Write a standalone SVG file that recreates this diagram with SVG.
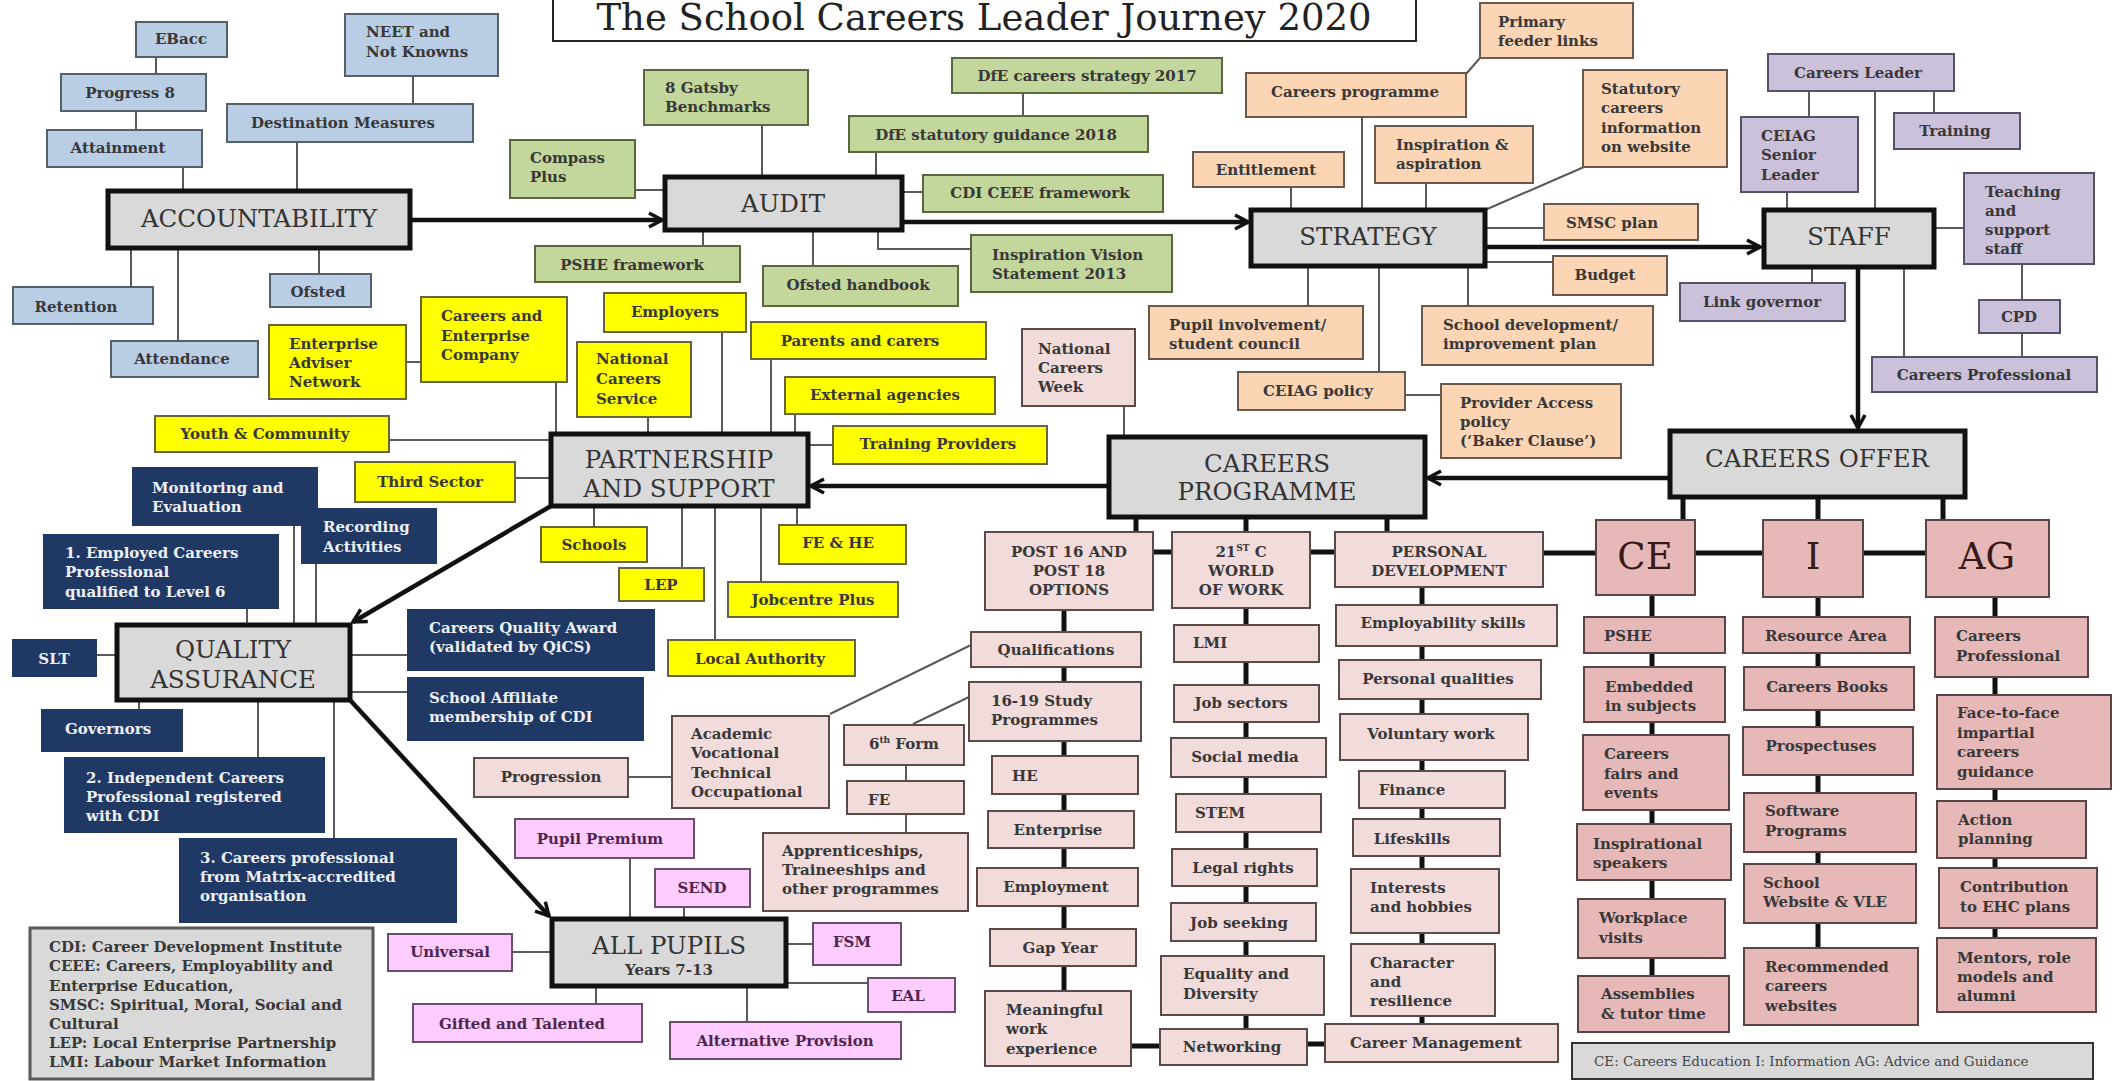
<svg xmlns="http://www.w3.org/2000/svg" width="2122" height="1081" viewBox="0 0 2122 1081">
<style>
text{font-family:"DejaVu Serif","Liberation Serif",serif}
.t{font-size:15px;font-weight:bold;fill:#383838}
.m{text-anchor:middle}
.w{fill:#eef0f6}
.h{font-size:24.5px;fill:#333;text-anchor:middle}
.big{font-size:37px;fill:#3a1818;text-anchor:middle}
.vt{fill:#4d2650}
rect{stroke-width:2}
rect.b{fill:#b9cde5;stroke:#55606b}
rect.g{fill:#c3d69b;stroke:#59683f}
rect.p{fill:#fcd5b5;stroke:#6b5a4a}
rect.u{fill:#ccc1da;stroke:#57506a}
rect.y{fill:#ffff00;stroke:#66663a}
rect.nv{fill:#1f3864;stroke:#1f3864}
rect.k{fill:#f2dcdb;stroke:#5a4a4a}
rect.r{fill:#e6b9b8;stroke:#5a4444}
rect.v{fill:#ffccff;stroke:#6a4f6a}
rect.hd{fill:#d9d9d9;stroke:#111;stroke-width:5}
rect.lg{fill:#d9d9d9;stroke:#595959;stroke-width:3}
.c{fill:none;stroke:#595959;stroke-width:2}
.kk{fill:none;stroke:#111;stroke-width:5}
.a{fill:none;stroke:#111;stroke-width:4.5;marker-end:url(#ah)}
</style>
<defs>
<marker id="ah" markerUnits="userSpaceOnUse" markerWidth="18" markerHeight="18" viewBox="0 0 18 18" refX="16" refY="9" orient="auto"><path d="M3,2 L16,9 L3,16" fill="none" stroke="#111" stroke-width="3.5"/></marker>
</defs>
<rect width="2122" height="1081" fill="#fff"/>

<g id="connectors">
<path class="c" d="M156,57V74 M136,111V130 M183,167V191 M297,142V191 M413,76V104 M131,248V287 M178,248V341 M319,248V274"/>
<path class="c" d="M635,190H665 M762,125V177 M1023,93V116 M876,152V177 M902,192H923 M703,230V246 M813,230V266 M878,230V249H971"/>
<path class="c" d="M1466,74L1480,58 M1362,117V210 M1291,187V210 M1426,183V210 M1485,210L1584,167 M1485,228H1544 M1485,262H1553 M1308,266V306 M1468,266V306 M1379,266V372 M1405,395H1441"/>
<path class="c" d="M1809,91V117 M1934,91V113 M1875,91V210 M1787,192V210 M1934,228H1964 M1812,267V283 M1904,267V357 M2022,264V300 M2022,333V357"/>
<path class="c" d="M808,445H833 M795,414V434 M771,359V434 M722,332V434 M648,417V434 M556,382V434 M389,440H551 M515,478H551 M594,506V527 M682,506V568 M715,506V640 M761,506V582 M797,506V525 M406,362H421"/>
<path class="c" d="M1124,406V437"/>
<path class="c" d="M294,525V625 M316,563V625 M247,608V625 M96,655H117 M350,655H408 M350,692H408 M139,700V710 M258,700V758 M334,700V839"/>
<path class="c" d="M630,858V919 M684,907V919 M786,944H813 M786,983H868 M747,986V1022 M596,986V1004 M512,952H552"/>
<path class="c" d="M628,777H672 M830,714L971,645 M913,724L969,697 M906,765V781 M906,814V833"/>
<path class="kk" d="M1136,517V532 M1246,517V532 M1387,517V532 M1153,552H1172 M1310,552H1335 M1543,553H1596 M1695,553H1763 M1863,553H1926"/>
<path class="kk" d="M1683,497V520 M1818,497V520 M1943,497V520"/>
<path class="kk" d="M1064,610V632 M1064,667V682 M1064,741V756 M1064,794V811 M1064,848V868 M1064,906V929 M1064,966V991"/>
<path class="kk" d="M1246,608V625 M1246,662V685 M1246,722V738 M1246,777V794 M1246,832V849 M1246,886V903 M1246,941V956 M1246,1015V1029"/>
<path class="kk" d="M1422,587V605 M1422,646V660 M1422,699V714 M1422,760V771 M1422,808V819 M1422,856V869 M1422,933V944 M1422,1016V1024"/>
<path class="kk" d="M1131,1046H1160 M1307,1044H1325"/>
<path class="kk" d="M1652,595V617 M1652,653V667 M1652,722V735 M1652,810V824 M1652,880V899 M1652,958V976"/>
<path class="kk" d="M1818,597V617 M1818,653V667 M1818,710V727 M1818,775V793 M1818,852V864 M1818,923V948"/>
<path class="kk" d="M1995,597V617 M1995,677V695 M1995,789V801 M1995,858V868 M1995,928V938"/>
<path class="a" d="M410,220H662"/>
<path class="a" d="M902,222H1248"/>
<path class="a" d="M1485,247H1760"/>
<path class="a" d="M1858,267V428"/>
<path class="a" d="M1670,478H1428"/>
<path class="a" d="M1109,486H811"/>
<path class="a" d="M551,506L353,622"/>
<path class="a" d="M350,700L549,916"/>
</g>

<g id="title"><rect x="553" y="-10" width="863" height="51" fill="#fff" stroke="#222" stroke-width="3"/><text x="984" y="30" font-size="37" fill="#222" text-anchor="middle">The School Careers Leader Journey 2020</text></g>

<g id="accountability"><rect class="hd" x="108" y="191" width="302" height="57"/><text class="h" x="259" y="227">ACCOUNTABILITY</text></g>
<g id="ebacc"><rect class="b" x="136" y="22" width="91" height="35"/><text class="t m" x="181" y="44">EBacc</text></g>
<g id="progress8"><rect class="b" x="61" y="74" width="145" height="37"/><text class="t m" x="130" y="98">Progress 8</text></g>
<g id="attainment"><rect class="b" x="47" y="130" width="155" height="37"/><text class="t m" x="118" y="153">Attainment</text></g>
<g id="neet"><rect class="b" x="345" y="14" width="153" height="62"/><text class="t"><tspan x="366" y="37">NEET and</tspan><tspan x="366" y="57">Not Knowns</tspan></text></g>
<g id="destination"><rect class="b" x="227" y="104" width="246" height="38"/><text class="t m" x="343" y="128">Destination Measures</text></g>
<g id="retention"><rect class="b" x="13" y="287" width="140" height="37"/><text class="t m" x="76" y="312">Retention</text></g>
<g id="attendance"><rect class="b" x="111" y="341" width="147" height="36"/><text class="t m" x="182" y="364">Attendance</text></g>
<g id="ofsted"><rect class="b" x="270" y="274" width="101" height="33"/><text class="t m" x="318" y="297">Ofsted</text></g>

<g id="audit"><rect class="hd" x="665" y="177" width="237" height="53"/><text class="h" x="783" y="212">AUDIT</text></g>
<g id="compass"><rect class="g" x="510" y="140" width="125" height="58"/><text class="t"><tspan x="530" y="163">Compass</tspan><tspan x="530" y="182">Plus</tspan></text></g>
<g id="gatsby"><rect class="g" x="644" y="70" width="164" height="55"/><text class="t"><tspan x="665" y="93">8 Gatsby</tspan><tspan x="665" y="112">Benchmarks</tspan></text></g>
<g id="dfe2017"><rect class="g" x="952" y="58" width="270" height="35"/><text class="t m" x="1087" y="81">DfE careers strategy 2017</text></g>
<g id="dfe2018"><rect class="g" x="849" y="116" width="299" height="36"/><text class="t m" x="996" y="140">DfE statutory guidance 2018</text></g>
<g id="cdi-ceee"><rect class="g" x="923" y="175" width="240" height="37"/><text class="t m" x="1040" y="198">CDI CEEE framework</text></g>
<g id="pshe-framework"><rect class="g" x="535" y="246" width="205" height="36"/><text class="t m" x="632" y="270">PSHE framework</text></g>
<g id="ofsted-handbook"><rect class="g" x="763" y="266" width="195" height="40"/><text class="t m" x="858" y="290">Ofsted handbook</text></g>
<g id="inspiration-vision"><rect class="g" x="971" y="235" width="201" height="57"/><text class="t"><tspan x="992" y="260">Inspiration Vision</tspan><tspan x="992" y="279">Statement 2013</tspan></text></g>

<g id="strategy"><rect class="hd" x="1251" y="210" width="234" height="56"/><text class="h" x="1368" y="245">STRATEGY</text></g>
<g id="careers-programme-item"><rect class="p" x="1246" y="73" width="220" height="44"/><text class="t m" x="1355" y="97">Careers programme</text></g>
<g id="primary"><rect class="p" x="1480" y="3" width="153" height="55"/><text class="t"><tspan x="1498" y="27">Primary</tspan><tspan x="1498" y="46">feeder links</tspan></text></g>
<g id="entitlement"><rect class="p" x="1193" y="152" width="151" height="35"/><text class="t m" x="1266" y="175">Entitlement</text></g>
<g id="inspiration-aspiration"><rect class="p" x="1375" y="126" width="158" height="57"/><text class="t"><tspan x="1396" y="150">Inspiration &amp;</tspan><tspan x="1396" y="169">aspiration</tspan></text></g>
<g id="statutory"><rect class="p" x="1583" y="70" width="144" height="97"/><text class="t"><tspan x="1601" y="94">Statutory</tspan><tspan x="1601" y="113">careers</tspan><tspan x="1601" y="133">information</tspan><tspan x="1601" y="152">on website</tspan></text></g>
<g id="smsc"><rect class="p" x="1544" y="204" width="154" height="36"/><text class="t m" x="1612" y="228">SMSC plan</text></g>
<g id="budget"><rect class="p" x="1553" y="256" width="114" height="39"/><text class="t m" x="1605" y="280">Budget</text></g>
<g id="pupil-involvement"><rect class="p" x="1149" y="306" width="214" height="53"/><text class="t"><tspan x="1169" y="330">Pupil involvement/</tspan><tspan x="1169" y="349">student council</tspan></text></g>
<g id="school-development"><rect class="p" x="1422" y="306" width="231" height="59"/><text class="t"><tspan x="1443" y="330">School development/</tspan><tspan x="1443" y="349">improvement plan</tspan></text></g>
<g id="ceiag-policy"><rect class="p" x="1238" y="372" width="167" height="38"/><text class="t m" x="1318" y="396">CEIAG policy</text></g>
<g id="provider-access"><rect class="p" x="1441" y="384" width="180" height="74"/><text class="t"><tspan x="1460" y="408">Provider Access</tspan><tspan x="1460" y="427">policy</tspan><tspan x="1460" y="446">(‘Baker Clause’)</tspan></text></g>

<g id="staff"><rect class="hd" x="1764" y="210" width="170" height="57"/><text class="h" x="1849" y="245">STAFF</text></g>
<g id="careers-leader"><rect class="u" x="1768" y="54" width="186" height="37"/><text class="t m" x="1858" y="78">Careers Leader</text></g>
<g id="ceiag-senior"><rect class="u" x="1741" y="117" width="117" height="75"/><text class="t"><tspan x="1761" y="141">CEIAG</tspan><tspan x="1761" y="160">Senior</tspan><tspan x="1761" y="180">Leader</tspan></text></g>
<g id="training"><rect class="u" x="1894" y="113" width="126" height="36"/><text class="t m" x="1955" y="136">Training</text></g>
<g id="teaching"><rect class="u" x="1964" y="173" width="130" height="91"/><text class="t"><tspan x="1985" y="197">Teaching</tspan><tspan x="1985" y="216">and</tspan><tspan x="1985" y="235">support</tspan><tspan x="1985" y="254">staff</tspan></text></g>
<g id="link-governor"><rect class="u" x="1680" y="283" width="165" height="38"/><text class="t m" x="1762" y="307">Link governor</text></g>
<g id="cpd"><rect class="u" x="1979" y="300" width="81" height="33"/><text class="t m" x="2019" y="322">CPD</text></g>
<g id="careers-professional-staff"><rect class="u" x="1872" y="357" width="225" height="35"/><text class="t m" x="1984" y="380">Careers Professional</text></g>

<g id="partnership"><rect class="hd" x="551" y="434" width="257" height="72"/><text class="h"><tspan x="679" y="468">PARTNERSHIP</tspan><tspan x="679" y="497">AND SUPPORT</tspan></text></g>
<g id="enterprise-adviser"><rect class="y" x="269" y="325" width="137" height="74"/><text class="t"><tspan x="289" y="349">Enterprise</tspan><tspan x="289" y="368">Adviser</tspan><tspan x="289" y="387">Network</tspan></text></g>
<g id="careers-enterprise-company"><rect class="y" x="421" y="297" width="146" height="85"/><text class="t"><tspan x="441" y="321">Careers and</tspan><tspan x="441" y="341">Enterprise</tspan><tspan x="441" y="360">Company</tspan></text></g>
<g id="employers"><rect class="y" x="604" y="293" width="142" height="39"/><text class="t m" x="675" y="317">Employers</text></g>
<g id="parents"><rect class="y" x="751" y="322" width="235" height="37"/><text class="t m" x="860" y="346">Parents and carers</text></g>
<g id="ncs"><rect class="y" x="577" y="342" width="114" height="75"/><text class="t"><tspan x="596" y="364">National</tspan><tspan x="596" y="384">Careers</tspan><tspan x="596" y="404">Service</tspan></text></g>
<g id="external"><rect class="y" x="785" y="377" width="210" height="37"/><text class="t m" x="885" y="400">External agencies</text></g>
<g id="training-providers"><rect class="y" x="833" y="426" width="214" height="38"/><text class="t m" x="938" y="449">Training Providers</text></g>
<g id="youth"><rect class="y" x="155" y="416" width="234" height="36"/><text class="t m" x="265" y="439">Youth &amp; Community</text></g>
<g id="third-sector"><rect class="y" x="355" y="462" width="160" height="40"/><text class="t m" x="430" y="487">Third Sector</text></g>
<g id="schools"><rect class="y" x="541" y="527" width="106" height="35"/><text class="t m" x="594" y="550">Schools</text></g>
<g id="lep"><rect class="y" x="619" y="568" width="85" height="33"/><text class="t m" x="661" y="590">LEP</text></g>
<g id="local-authority"><rect class="y" x="668" y="640" width="187" height="36"/><text class="t m" x="760" y="664">Local Authority</text></g>
<g id="jobcentre"><rect class="y" x="728" y="582" width="170" height="35"/><text class="t m" x="813" y="605">Jobcentre Plus</text></g>
<g id="fe-he"><rect class="y" x="779" y="525" width="127" height="39"/><text class="t m" x="838" y="548">FE &amp; HE</text></g>

<g id="quality"><rect class="hd" x="117" y="625" width="233" height="75"/><text class="h"><tspan x="233" y="658">QUALITY</tspan><tspan x="233" y="688">ASSURANCE</tspan></text></g>
<g id="monitoring"><rect class="nv" x="133" y="468" width="184" height="57"/><text class="t w"><tspan x="152" y="493">Monitoring and</tspan><tspan x="152" y="512">Evaluation</tspan></text></g>
<g id="recording"><rect class="nv" x="302" y="509" width="134" height="54"/><text class="t w"><tspan x="323" y="532">Recording</tspan><tspan x="323" y="552">Activities</tspan></text></g>
<g id="employed"><rect class="nv" x="44" y="535" width="234" height="73"/><text class="t w"><tspan x="65" y="558">1. Employed Careers</tspan><tspan x="65" y="577">Professional</tspan><tspan x="65" y="597">qualified to Level 6</tspan></text></g>
<g id="slt"><rect class="nv" x="13" y="640" width="83" height="36"/><text class="t w m" x="54" y="664">SLT</text></g>
<g id="cqa"><rect class="nv" x="408" y="610" width="246" height="60"/><text class="t w"><tspan x="429" y="633">Careers Quality Award</tspan><tspan x="429" y="652">(validated by QiCS)</tspan></text></g>
<g id="school-affiliate"><rect class="nv" x="408" y="678" width="235" height="62"/><text class="t w"><tspan x="429" y="703">School Affiliate</tspan><tspan x="429" y="722">membership of CDI</tspan></text></g>
<g id="governors"><rect class="nv" x="42" y="710" width="140" height="41"/><text class="t w m" x="108" y="734">Governors</text></g>
<g id="independent"><rect class="nv" x="65" y="758" width="259" height="74"/><text class="t w"><tspan x="86" y="783">2. Independent Careers</tspan><tspan x="86" y="802">Professional registered</tspan><tspan x="86" y="821">with CDI</tspan></text></g>
<g id="matrix"><rect class="nv" x="180" y="839" width="276" height="83"/><text class="t w"><tspan x="200" y="863">3. Careers professional</tspan><tspan x="200" y="882">from Matrix-accredited</tspan><tspan x="200" y="901">organisation</tspan></text></g>

<g id="legend-abbreviations"><rect class="lg" x="30" y="928" width="343" height="151"/><text class="t"><tspan x="49" y="952">CDI: Career Development Institute</tspan><tspan x="49" y="971">CEEE: Careers, Employability and</tspan><tspan x="49" y="991">Enterprise Education,</tspan><tspan x="49" y="1010">SMSC: Spiritual, Moral, Social and</tspan><tspan x="49" y="1029">Cultural</tspan><tspan x="49" y="1048">LEP: Local Enterprise Partnership</tspan><tspan x="49" y="1067">LMI: Labour Market Information</tspan></text></g>

<g id="all-pupils"><rect class="hd" x="552" y="919" width="234" height="67"/><text class="h" x="669" y="954">ALL PUPILS</text><text class="t m" x="669" y="975">Years 7-13</text></g>
<g id="pupil-premium"><rect class="v" x="515" y="819" width="179" height="39"/><text class="t m vt" x="600" y="844">Pupil Premium</text></g>
<g id="send"><rect class="v" x="655" y="869" width="95" height="38"/><text class="t m vt" x="702" y="893">SEND</text></g>
<g id="fsm"><rect class="v" x="813" y="923" width="88" height="42"/><text class="t m vt" x="852" y="947">FSM</text></g>
<g id="eal"><rect class="v" x="868" y="978" width="87" height="34"/><text class="t m vt" x="908" y="1001">EAL</text></g>
<g id="alternative"><rect class="v" x="670" y="1022" width="231" height="37"/><text class="t m vt" x="785" y="1046">Alternative Provision</text></g>
<g id="gifted"><rect class="v" x="413" y="1004" width="229" height="38"/><text class="t m vt" x="522" y="1029">Gifted and Talented</text></g>
<g id="universal"><rect class="v" x="388" y="934" width="124" height="37"/><text class="t m vt" x="450" y="957">Universal</text></g>

<g id="careers-programme"><rect class="hd" x="1109" y="437" width="316" height="80"/><text class="h"><tspan x="1267" y="472">CAREERS</tspan><tspan x="1267" y="500">PROGRAMME</tspan></text></g>
<g id="national-careers-week"><rect class="k" x="1022" y="329" width="113" height="77"/><text class="t"><tspan x="1038" y="354">National</tspan><tspan x="1038" y="373">Careers</tspan><tspan x="1038" y="392">Week</tspan></text></g>
<g id="post16"><rect class="k" x="985" y="532" width="168" height="78"/><text class="t m"><tspan x="1069" y="557">POST 16 AND</tspan><tspan x="1069" y="576">POST 18</tspan><tspan x="1069" y="595">OPTIONS</tspan></text></g>
<g id="world-of-work"><rect class="k" x="1172" y="532" width="138" height="76"/><text class="t m" x="1241" y="557">21<tspan font-size="9" dy="-6">ST</tspan><tspan dy="6"> C</tspan></text><text class="t m"><tspan x="1241" y="576">WORLD</tspan><tspan x="1241" y="595">OF WORK</tspan></text></g>
<g id="personal-development"><rect class="k" x="1335" y="532" width="208" height="55"/><text class="t m"><tspan x="1439" y="557">PERSONAL</tspan><tspan x="1439" y="576">DEVELOPMENT</tspan></text></g>
<g id="qualifications"><rect class="k" x="971" y="632" width="170" height="35"/><text class="t m" x="1056" y="655">Qualifications</text></g>
<g id="study-programmes"><rect class="k" x="969" y="682" width="172" height="59"/><text class="t"><tspan x="991" y="706">16-19 Study</tspan><tspan x="991" y="725">Programmes</tspan></text></g>
<g id="academic"><rect class="k" x="672" y="716" width="157" height="92"/><text class="t"><tspan x="691" y="739">Academic</tspan><tspan x="691" y="758">Vocational</tspan><tspan x="691" y="778">Technical</tspan><tspan x="691" y="797">Occupational</tspan></text></g>
<g id="progression"><rect class="k" x="474" y="758" width="154" height="39"/><text class="t m" x="551" y="782">Progression</text></g>
<g id="sixth-form"><rect class="k" x="844" y="725" width="120" height="40"/><text class="t m" x="904" y="749">6<tspan font-size="9" dy="-6">th</tspan><tspan dy="6"> Form</tspan></text></g>
<g id="fe"><rect class="k" x="847" y="781" width="117" height="33"/><text class="t" x="868" y="805" font-size="19">FE</text></g>
<g id="apprenticeships"><rect class="k" x="763" y="833" width="205" height="78"/><text class="t"><tspan x="782" y="856">Apprenticeships,</tspan><tspan x="782" y="875">Traineeships and</tspan><tspan x="782" y="894">other programmes</tspan></text></g>
<g id="he"><rect class="k" x="992" y="756" width="146" height="38"/><text class="t" x="1012" y="781">HE</text></g>
<g id="enterprise"><rect class="k" x="988" y="811" width="146" height="37"/><text class="t m" x="1058" y="835">Enterprise</text></g>
<g id="employment"><rect class="k" x="977" y="868" width="161" height="38"/><text class="t m" x="1056" y="892">Employment</text></g>
<g id="gap-year"><rect class="k" x="990" y="929" width="146" height="37"/><text class="t m" x="1060" y="953">Gap Year</text></g>
<g id="meaningful"><rect class="k" x="985" y="991" width="146" height="75"/><text class="t"><tspan x="1006" y="1015">Meaningful</tspan><tspan x="1006" y="1034">work</tspan><tspan x="1006" y="1054">experience</tspan></text></g>
<g id="lmi"><rect class="k" x="1174" y="625" width="145" height="37"/><text class="t" x="1193" y="648">LMI</text></g>
<g id="job-sectors"><rect class="k" x="1174" y="685" width="145" height="37"/><text class="t m" x="1241" y="708">Job sectors</text></g>
<g id="social-media"><rect class="k" x="1171" y="738" width="155" height="39"/><text class="t m" x="1245" y="762">Social media</text></g>
<g id="stem"><rect class="k" x="1176" y="794" width="145" height="38"/><text class="t" x="1195" y="818">STEM</text></g>
<g id="legal-rights"><rect class="k" x="1172" y="849" width="145" height="37"/><text class="t m" x="1243" y="873">Legal rights</text></g>
<g id="job-seeking"><rect class="k" x="1171" y="903" width="145" height="38"/><text class="t m" x="1239" y="928">Job seeking</text></g>
<g id="equality"><rect class="k" x="1161" y="956" width="163" height="59"/><text class="t"><tspan x="1183" y="979">Equality and</tspan><tspan x="1183" y="999">Diversity</tspan></text></g>
<g id="networking"><rect class="k" x="1160" y="1029" width="147" height="36"/><text class="t m" x="1232" y="1052">Networking</text></g>
<g id="employability"><rect class="k" x="1336" y="605" width="221" height="41"/><text class="t m" x="1443" y="628">Employability skills</text></g>
<g id="personal-qualities"><rect class="k" x="1339" y="660" width="202" height="39"/><text class="t m" x="1438" y="684">Personal qualities</text></g>
<g id="voluntary"><rect class="k" x="1340" y="714" width="188" height="46"/><text class="t m" x="1431" y="739">Voluntary work</text></g>
<g id="finance"><rect class="k" x="1359" y="771" width="146" height="37"/><text class="t m" x="1412" y="795">Finance</text></g>
<g id="lifeskills"><rect class="k" x="1353" y="819" width="147" height="37"/><text class="t m" x="1412" y="844">Lifeskills</text></g>
<g id="interests"><rect class="k" x="1351" y="869" width="148" height="64"/><text class="t"><tspan x="1370" y="893">Interests</tspan><tspan x="1370" y="912">and hobbies</tspan></text></g>
<g id="character"><rect class="k" x="1351" y="944" width="144" height="72"/><text class="t"><tspan x="1370" y="968">Character</tspan><tspan x="1370" y="987">and</tspan><tspan x="1370" y="1006">resilience</tspan></text></g>
<g id="career-management"><rect class="k" x="1325" y="1024" width="233" height="38"/><text class="t m" x="1436" y="1048">Career Management</text></g>

<g id="careers-offer"><rect class="hd" x="1670" y="431" width="295" height="66"/><text class="h" x="1817" y="467">CAREERS OFFER</text></g>
<g id="ce"><rect class="r" x="1596" y="520" width="99" height="75"/><text class="big" x="1645" y="569">CE</text></g>
<g id="i"><rect class="r" x="1763" y="520" width="100" height="77"/><text class="big" x="1813" y="569">I</text></g>
<g id="ag"><rect class="r" x="1926" y="520" width="123" height="77"/><text class="big" x="1987" y="569">AG</text></g>
<g id="pshe"><rect class="r" x="1584" y="617" width="141" height="36"/><text class="t" x="1604" y="641">PSHE</text></g>
<g id="embedded"><rect class="r" x="1584" y="667" width="141" height="55"/><text class="t"><tspan x="1605" y="692">Embedded</tspan><tspan x="1605" y="711">in subjects</tspan></text></g>
<g id="fairs"><rect class="r" x="1583" y="735" width="146" height="75"/><text class="t"><tspan x="1604" y="759">Careers</tspan><tspan x="1604" y="779">fairs and</tspan><tspan x="1604" y="798">events</tspan></text></g>
<g id="inspirational"><rect class="r" x="1577" y="824" width="154" height="56"/><text class="t"><tspan x="1593" y="849">Inspirational</tspan><tspan x="1593" y="868">speakers</tspan></text></g>
<g id="workplace"><rect class="r" x="1578" y="899" width="147" height="59"/><text class="t"><tspan x="1599" y="923">Workplace</tspan><tspan x="1599" y="943">visits</tspan></text></g>
<g id="assemblies"><rect class="r" x="1578" y="976" width="151" height="56"/><text class="t"><tspan x="1601" y="999">Assemblies</tspan><tspan x="1601" y="1019">&amp; tutor time</tspan></text></g>
<g id="resource-area"><rect class="r" x="1743" y="617" width="167" height="36"/><text class="t m" x="1826" y="641">Resource Area</text></g>
<g id="careers-books"><rect class="r" x="1744" y="667" width="170" height="43"/><text class="t m" x="1827" y="692">Careers Books</text></g>
<g id="prospectuses"><rect class="r" x="1743" y="727" width="170" height="48"/><text class="t m" x="1821" y="751">Prospectuses</text></g>
<g id="software"><rect class="r" x="1744" y="793" width="172" height="59"/><text class="t"><tspan x="1765" y="816">Software</tspan><tspan x="1765" y="836">Programs</tspan></text></g>
<g id="school-website"><rect class="r" x="1744" y="864" width="172" height="59"/><text class="t"><tspan x="1763" y="888">School</tspan><tspan x="1763" y="907">Website &amp; VLE</tspan></text></g>
<g id="recommended"><rect class="r" x="1744" y="948" width="174" height="77"/><text class="t"><tspan x="1765" y="972">Recommended</tspan><tspan x="1765" y="991">careers</tspan><tspan x="1765" y="1011">websites</tspan></text></g>
<g id="careers-professional-ag"><rect class="r" x="1935" y="617" width="153" height="60"/><text class="t"><tspan x="1956" y="641">Careers</tspan><tspan x="1956" y="661">Professional</tspan></text></g>
<g id="face-to-face"><rect class="r" x="1937" y="695" width="174" height="94"/><text class="t"><tspan x="1957" y="718">Face-to-face</tspan><tspan x="1957" y="738">impartial</tspan><tspan x="1957" y="757">careers</tspan><tspan x="1957" y="777">guidance</tspan></text></g>
<g id="action-planning"><rect class="r" x="1937" y="801" width="149" height="57"/><text class="t"><tspan x="1958" y="825">Action</tspan><tspan x="1958" y="844">planning</tspan></text></g>
<g id="ehc"><rect class="r" x="1939" y="868" width="158" height="60"/><text class="t"><tspan x="1960" y="892">Contribution</tspan><tspan x="1960" y="912">to EHC plans</tspan></text></g>
<g id="mentors"><rect class="r" x="1937" y="938" width="159" height="74"/><text class="t"><tspan x="1957" y="963">Mentors, role</tspan><tspan x="1957" y="982">models and</tspan><tspan x="1957" y="1001">alumni</tspan></text></g>

<g id="legend-offer"><rect x="1572" y="1043" width="521" height="36" fill="#d9d9d9" stroke="#333" stroke-width="3"/><text x="1594" y="1066" font-size="13.5" fill="#444">CE: Careers Education I: Information AG: Advice and Guidance</text></g>
</svg>
